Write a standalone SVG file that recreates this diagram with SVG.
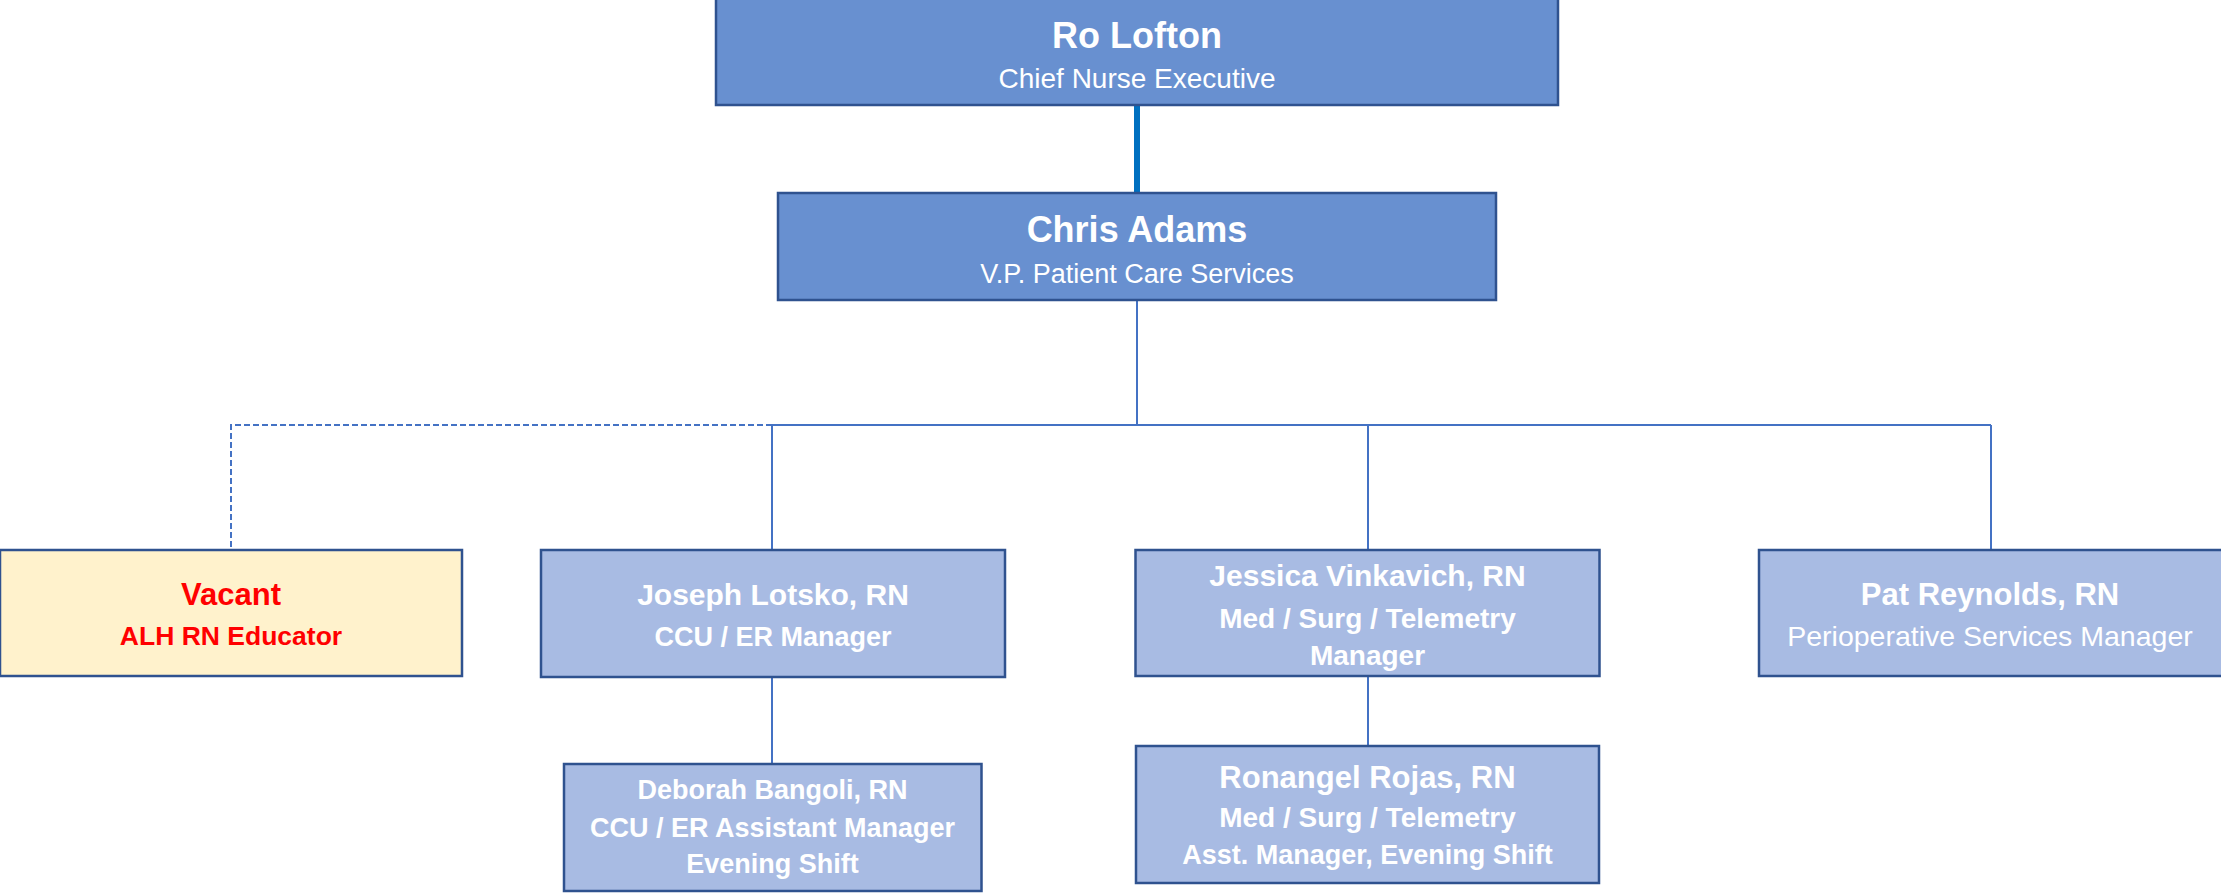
<svg xmlns="http://www.w3.org/2000/svg" width="2221" height="893" viewBox="0 0 2221 893">
<style>
.main{fill:#6890D0;stroke:#2F528F;stroke-width:2.5}
.sub{fill:#A8BBE3;stroke:#2F528F;stroke-width:2.5}
.vac{fill:#FFF2CC;stroke:#2F528F;stroke-width:2.5}
text{font-family:"Liberation Sans",Arial,sans-serif;text-anchor:middle;fill:#FFFFFF}
.b{font-weight:bold}
.red{fill:#FF0000}
.thin{fill:none;stroke:#4472C4;stroke-width:2}
.dash{fill:none;stroke:#4472C4;stroke-width:2;stroke-dasharray:6 3}
.thick{fill:none;stroke:#0070C0;stroke-width:6}
</style>
<rect width="2221" height="893" fill="#FFFFFF"/>
<g id="connectors">
<path class="dash" d="M772 425 H231 V550"/>
<path class="thick" d="M1137 105 V193"/>
<path class="thin" d="M1137 300 V425 M772 425 H1991 M772 425 V550 M1368 425 V550 M1991 425 V550 M772 677 V764 M1368 676 V746"/>
</g>
<g id="ro-lofton">
<rect class="main" x="716" y="-2" width="842" height="107"/>
<text class="b" x="1137" y="48" font-size="36">Ro Lofton</text>
<text x="1137" y="88" font-size="28">Chief Nurse Executive</text>
</g>
<g id="chris-adams">
<rect class="main" x="778" y="193" width="718" height="107"/>
<text class="b" x="1137" y="242" font-size="36">Chris Adams</text>
<text x="1137" y="283" font-size="27">V.P. Patient Care Services</text>
</g>
<g id="vacant">
<rect class="vac" x="0" y="550" width="462" height="126"/>
<text class="b red" x="231" y="605" font-size="31">Vacant</text>
<text class="b red" x="231" y="645" font-size="26.5">ALH RN Educator</text>
</g>
<g id="joseph-lotsko">
<rect class="sub" x="541" y="550" width="464" height="127"/>
<text class="b" x="773" y="605" font-size="30">Joseph Lotsko, RN</text>
<text class="b" x="773" y="646" font-size="27">CCU / ER Manager</text>
</g>
<g id="jessica-vinkavich">
<rect class="sub" x="1135.5" y="550" width="464" height="126"/>
<text class="b" x="1367.5" y="586" font-size="30">Jessica Vinkavich, RN</text>
<text class="b" x="1367.5" y="628" font-size="28">Med / Surg / Telemetry</text>
<text class="b" x="1367.5" y="665" font-size="28">Manager</text>
</g>
<g id="pat-reynolds">
<rect class="sub" x="1759" y="550" width="465" height="126"/>
<text class="b" x="1990" y="605" font-size="31">Pat Reynolds, RN</text>
<text x="1990" y="646" font-size="28.5">Perioperative Services Manager</text>
</g>
<g id="deborah-bangoli">
<rect class="sub" x="564" y="764" width="417.5" height="127"/>
<text class="b" x="772.5" y="799" font-size="27">Deborah Bangoli, RN</text>
<text class="b" x="772.5" y="837" font-size="27">CCU / ER Assistant Manager</text>
<text class="b" x="772.5" y="873" font-size="27">Evening Shift</text>
</g>
<g id="ronangel-rojas">
<rect class="sub" x="1136" y="746" width="463" height="137"/>
<text class="b" x="1367.5" y="788" font-size="31">Ronangel Rojas, RN</text>
<text class="b" x="1367.5" y="827" font-size="28">Med / Surg / Telemetry</text>
<text class="b" x="1367.5" y="864" font-size="27">Asst. Manager, Evening Shift</text>
</g>
</svg>
